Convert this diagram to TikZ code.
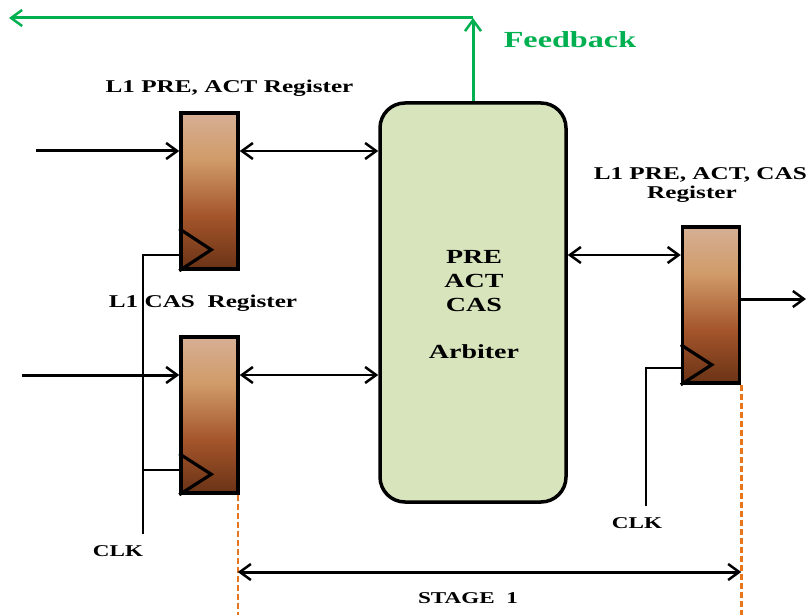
\documentclass[tikz,border=0pt]{standalone}
\usepackage{fontspec}
\setmainfont{Liberation Serif}[FakeStretch=1.4]
\usetikzlibrary{arrows.meta}
\definecolor{arbfill}{HTML}{D8E4BC}
\definecolor{fbgreen}{HTML}{00B050}
\definecolor{dashorange}{HTML}{E8761E}
\definecolor{regtop}{HTML}{D6AF95}
\definecolor{regmid}{HTML}{D09B68}
\definecolor{regmidb}{HTML}{A4552B}
\definecolor{regbot}{HTML}{6A3316}
\pgfdeclareverticalshading{regshade}{100bp}{color(0bp)=(regbot); color(25bp)=(regbot); color(42bp)=(regmidb); color(60bp)=(regmid); color(75bp)=(regtop); color(100bp)=(regtop)}
\begin{document}
\begin{tikzpicture}[x=1pt,y=-1pt,
  reg/.style={draw, line width=3.5pt, shading=regshade, minimum width=57pt, minimum height=156pt, inner sep=0pt},
  arb/.style={draw, line width=3.5pt, fill=arbfill, rounded corners=25pt, minimum width=186pt, minimum height=399pt, inner sep=0pt},
  clkst/.style={line width=3.2pt, line join=miter},
  cwire/.style={line width=2.5pt},
  wire/.style={line width=3pt},
  dwire/.style={line width=2.5pt},
  gwire/.style={line width=3pt, draw=fbgreen},
  odash/.style={draw=dashorange, line width=2.5pt, dash pattern=on 6pt off 3pt},
  tip/.tip={Straight Barb[length=11pt,width=16pt,line width=2.5pt]},
  lbl/.style={inner sep=0pt, font=\bfseries\fontsize{18}{22}\selectfont},
  fbl/.style={inner sep=0pt, text=fbgreen, font=\bfseries\fontsize{23}{27}\selectfont},
  atxt/.style={inner sep=0pt, align=center, font=\bfseries\fontsize{20}{24}\selectfont},
  clkl/.style={inner sep=0pt, font=\bfseries\fontsize{16.5}{20}\selectfont}
]
\useasboundingbox (0,0) rectangle (809,615);
% dashed stage boundaries
\coordinate (bot) at (0,615);
\coordinate (st) at (0,572);
\node[reg] (r1) at (209.5,191) {};
\node[reg] (r2) at (209.5,415) {};
\node[reg] (r3) at (711,305) {};
\draw[odash] ([xshift=-2pt]r2.south east) -- ([xshift=-2pt]r2.south east |- bot);
\draw[odash] (r3.south east) -- (r3.south east |- bot);
\node[arb] (arb) at (473,302.5) {};
% clock triangles
\draw[clkst] ([yshift=42pt]r1.south west) -- ++(32,21) -- (r1.south west);
\draw[clkst] ([yshift=41pt]r2.south west) -- ++(32,20.5) -- (r2.south west);
\draw[clkst] ([yshift=40pt]r3.south west) -- ++(31,20) -- (r3.south west);
% clock wiring
\coordinate (clkL) at (143,534);
\coordinate (clkR) at (646,506);
\coordinate (c1) at ([yshift=16pt]r1.south west);
\coordinate (c2) at ([yshift=25pt]r2.south west);
\coordinate (c3) at ([yshift=17pt]r3.south west);
\draw[cwire] (clkL) |- (c1);
\draw[cwire] (clkL |- c2) -- (c2);
\draw[cwire] (clkR) |- (c3);
% inputs
\coordinate (in1) at (36,151);
\coordinate (in2) at (22,375);
\draw[wire,-tip] (in1) -- (in1 -| r1.west);
\draw[wire,-tip] (in2) -- (in2 -| r2.west);
% bidirectional links
\coordinate (a1) at ([yshift=40pt]r1.east);
\coordinate (a2) at ([yshift=40pt]r2.east);
\coordinate (a3) at ([yshift=50pt]r3.west);
\draw[dwire,tip-tip] (a1) -- (a1 -| arb.west);
\draw[dwire,tip-tip] (a2) -- (a2 -| arb.west);
\draw[dwire,tip-tip] (a3 -| arb.east) -- (a3);
% output
\coordinate (out) at (806,299);
\draw[wire,-tip] (r3.east |- out) -- (out);
% feedback
\coordinate (fbtop) at (473,18);
\coordinate (fbend) at (9,18);
\draw[gwire,-tip] (arb.north) -- (fbtop);
\draw[gwire,-tip] (fbtop) -- (fbend);
% stage
\draw[wire,tip-tip] ([xshift=-2pt]r2.south east |- st) -- (r3.south east |- st);
% texts
\node[lbl, anchor=base] (t1) at (229.5,93) {L1 PRE, ACT Register};
\node[lbl, anchor=base] (t2) at (203,307) {L1 CAS\ \ Register};
\node[lbl, anchor=base east] (t3) at (807,180) {L1 PRE, ACT, CAS};
\node[lbl, anchor=base] (t4) at (692,199) {Register};
\node[fbl, anchor=base] (t5) at (570,48) {Feedback};
\node[atxt, anchor=base] (t6) at (474,358) {PRE\\ACT\\CAS\\[23pt]Arbiter};
\node[clkl, anchor=base] (t7) at (118,556) {CLK};
\node[clkl, anchor=base] (t8) at (637,528) {CLK};
\node[clkl, anchor=base] (t9) at (468,603) {STAGE\ \ 1};
\end{tikzpicture}
\end{document}
